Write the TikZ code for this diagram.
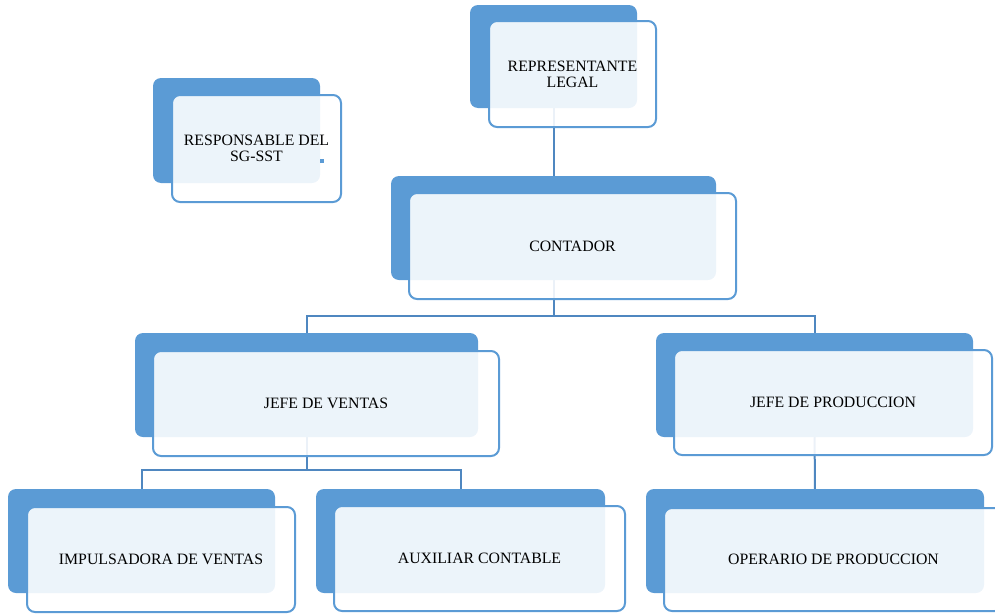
\documentclass[tikz,border=0pt]{standalone}
\usepackage{fontspec}
\setmainfont{Liberation Serif}
\definecolor{accblue}{HTML}{5B9BD5}
\definecolor{connblue}{HTML}{4F87C0}
\pgfdeclarelayer{bg}
\pgfsetlayers{bg,main}
\begin{document}
\begin{tikzpicture}[x=1pt,y=-1pt,
  backbox/.style={fill=accblue, rounded corners=8pt, inner sep=0pt, outer sep=0pt},
  frontbox/.style={draw=accblue, line width=2pt, fill=white, fill opacity=0.89, text opacity=1,
     rounded corners=8pt, inner sep=0pt, outer sep=0pt, align=center,
     font=\fontsize{15.8}{16}\selectfont},
  conn/.style={draw=connblue, line width=2pt}]
\useasboundingbox (0,0) rectangle (995,613);
\clip (0,0) rectangle (995,613);
% back boxes
\node[backbox, minimum width=167pt, minimum height=103pt] (repb) at (553.5,56.5) {};
\node[backbox, minimum width=167pt, minimum height=105pt] (sgb) at (236.5,130.5) {};
\node[backbox, minimum width=325pt, minimum height=104pt] (contb) at (553.5,228) {};
\node[backbox, minimum width=343pt, minimum height=104pt] (jvb) at (306.5,385) {};
\node[backbox, minimum width=317pt, minimum height=104pt] (jpb) at (814.5,385) {};
\node[backbox, minimum width=267pt, minimum height=104pt] (impb) at (141.5,541) {};
\node[backbox, minimum width=289pt, minimum height=104pt] (auxb) at (460.5,541) {};
\node[backbox, minimum width=338pt, minimum height=104pt] (opb) at (815,541) {};
% front boxes
\node[frontbox, minimum width=167pt, minimum height=106pt] (rep) at (572.5,74) {REPRESENTANTE\\LEGAL};
\node[frontbox, minimum width=169pt, minimum height=107pt] (sg) at (256.5,148.5) {RESPONSABLE DEL\\SG-SST};
\node[frontbox, minimum width=327pt, minimum height=106pt] (cont) at (572.5,246) {CONTADOR};
\node[frontbox, minimum width=346pt, minimum height=105pt] (jv) at (326,403.5) {JEFE DE VENTAS};
\node[frontbox, minimum width=318pt, minimum height=105pt] (jp) at (833,402.5) {JEFE DE PRODUCCION};
\node[frontbox, minimum width=268pt, minimum height=105pt] (imp) at (161,559.5) {IMPULSADORA DE VENTAS};
\node[frontbox, minimum width=291pt, minimum height=105pt] (aux) at (479.5,558.5) {AUXILIAR CONTABLE};
\node[frontbox, minimum width=339pt, minimum height=103pt] (op) at (833.5,559.5) {OPERARIO DE PRODUCCION};
% small blue mark
\node[fill=accblue, minimum size=4pt, inner sep=0pt] (dot) at (322,161) {};
% connectors
\coordinate (b1) at (553.5,316);
\coordinate (b2) at (306.5,470);
\begin{pgfonlayer}{bg}
\draw[conn] (repb.center) -- (contb.center);
\draw[conn] (contb.center) -- (b1) -| (jvb.center);
\draw[conn] (b1) -| (jpb.center);
\draw[conn] (jvb.center) -- (b2) -| (impb.center);
\draw[conn] (b2) -| (auxb.center);
\draw[conn] (jpb.center) -- (opb.center);
\end{pgfonlayer}
\end{tikzpicture}
\end{document}
